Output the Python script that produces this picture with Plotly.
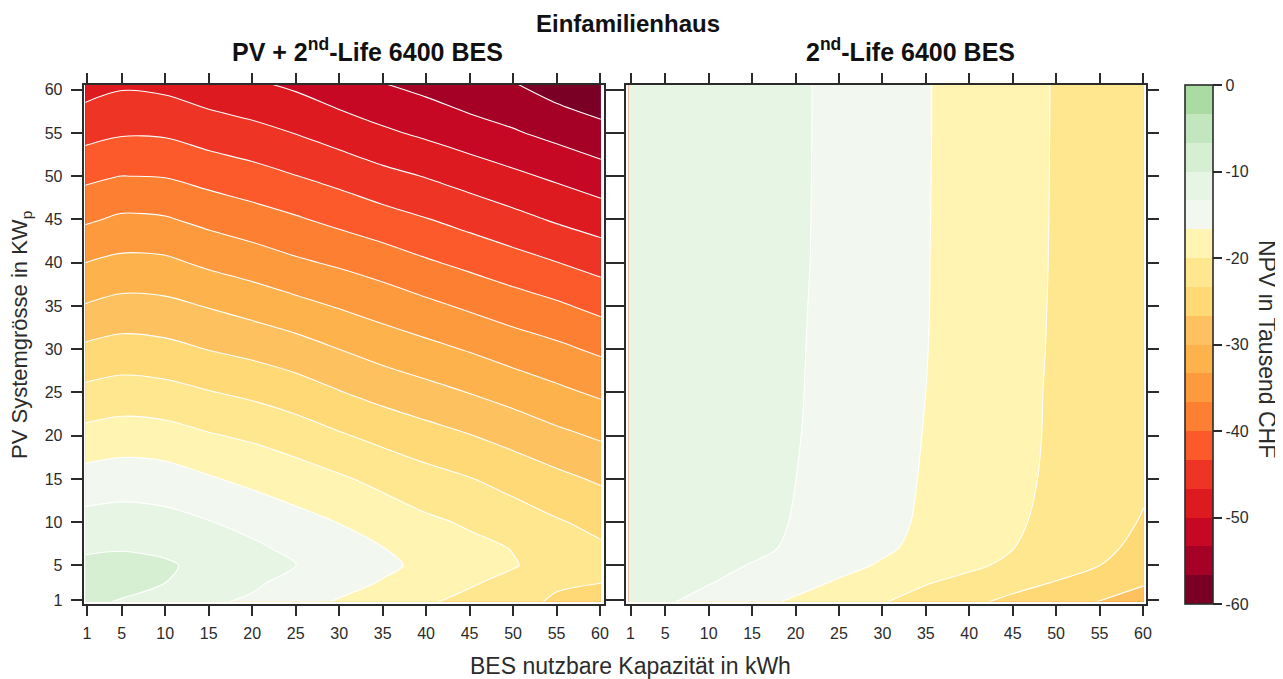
import plotly.graph_objects as go

W, H = 1283, 679
PAGE_OFFSET = 8

bes_grid = [0.8, 5, 10, 15, 20, 25, 30, 35, 40, 45, 50, 55, 60.1]
pv_grid = [0.8, 3, 5, 7, 10, 15, 20, 25, 30, 35, 40, 45, 50, 55, 60.6]
tick_values = [1, 5, 10, 15, 20, 25, 30, 35, 40, 45, 50, 55, 60]
tick_labels = ["1", "5", "10", "15", "20", "25", "30", "35", "40", "45", "50", "55", "60"]
scale_values = [0, -10, -20, -30, -40, -50, -60]
scale_labels = ["0", "-10", "-20", "-30", "-40", "-50", "-60"]

# Left panel: NPV per BES capacity column, from the lowest PV size upward
combo_x01 = [-9.6, -9.1, -9.1, -10.55, -12.2, -15.39, -18.95, -22.52, -26.06, -29.82, -33.33, -37.13, -40.76, -44.39, -48.0]
combo_x05 = [-10.15, -9.3, -9.1, -10.2, -11.89, -14.96, -18.41, -21.95, -25.39, -28.98, -32.54, -36.12, -39.97, -43.63, -47.1]
combo_x10 = [-11.6, -10.0, -9.6, -10.6, -12.26, -15.25, -18.7, -22.27, -25.77, -29.21, -32.7, -36.36, -40.14, -43.73, -47.48]
combo_x15 = [-12.8, -11.8, -10.9, -11.25, -13.2, -16.36, -19.72, -23.17, -26.75, -30.18, -33.94, -37.54, -41.17, -44.82, -48.6]
combo_x20 = [-13.9, -12.7, -12.1, -12.7, -14.39, -17.43, -20.51, -24.0, -27.59, -31.23, -34.97, -38.56, -42.14, -45.66, -49.5]
combo_x25 = [-15.6, -14.6, -13.25, -14.2, -15.64, -18.4, -21.62, -25.08, -28.62, -32.4, -36.15, -39.64, -43.25, -46.76, -50.56]
combo_x30 = [-16.9, -15.7, -14.5, -15.35, -16.75, -19.57, -22.97, -26.5, -30.0, -33.57, -37.13, -40.85, -44.41, -48.11, -52.0]
combo_x35 = [-18.2, -16.85, -16.1, -16.6, -18.13, -20.85, -24.26, -27.81, -31.33, -34.74, -38.23, -42.06, -45.74, -49.45, -53.2]
combo_x40 = [-19.7, -18.6, -17.3, -18.13, -19.41, -22.15, -25.42, -28.94, -32.44, -35.93, -39.6, -43.2, -46.81, -50.59, -54.3]
combo_x45 = [-20.7, -19.7, -18.5, -19.2, -20.39, -23.2, -26.54, -30.08, -33.58, -37.17, -40.79, -44.45, -48.09, -51.8, -55.65]
combo_x50 = [-22.0, -20.8, -19.8, -20.1, -21.7, -24.51, -27.81, -31.33, -34.87, -38.38, -42.04, -45.7, -49.33, -52.99, -56.45]
combo_x55 = [-23.9, -22.8, -21.2, -21.94, -23.03, -25.83, -29.22, -32.63, -35.96, -39.5, -43.27, -47.03, -50.56, -54.25, -58.2]
combo_x60 = [-24.5, -23.3, -22.6, -22.9, -24.2, -27.12, -30.43, -33.87, -37.27, -40.92, -44.55, -48.21, -51.88, -55.59, -59.4]

# Right panel: NPV per PV size row, from the smallest BES capacity to the largest
life_y01 = [-11.9, -13.0, -14.35, -15.7, -17.1, -18.4, -19.8, -21.3, -22.7, -24.1, -25.4, -26.75, -28.0]
life_y03 = [-11.4, -12.0, -13.2, -14.4, -15.7, -17.0, -18.3, -19.8, -21.0, -22.3, -23.5, -25.0, -26.4]
life_y05 = [-11.0, -11.6, -12.5, -13.5, -14.7, -15.8, -16.97, -18.2, -19.4, -20.7, -22.0, -23.32, -24.6]
life_y07 = [-10.9, -11.3, -11.9, -12.6, -13.85, -15.0, -16.2, -17.45, -18.68, -19.94, -21.31, -22.7, -24.1]
life_y10 = [-10.7, -11.05, -11.6, -12.4, -13.51, -14.7, -15.9, -17.07, -18.3, -19.55, -20.86, -22.2, -23.55]
life_y15 = [-10.6, -10.95, -11.4, -12.1, -13.32, -14.5, -15.7, -16.9, -18.1, -19.33, -20.5, -21.7, -22.9]
life_y20 = [-10.6, -10.95, -11.4, -11.9, -13.18, -14.37, -15.56, -16.78, -18.0, -19.2, -20.4, -21.65, -22.85]
life_y25 = [-10.6, -10.95, -11.4, -11.9, -13.1, -14.28, -15.46, -16.67, -17.91, -19.15, -20.37, -21.6, -22.8]
life_y30 = [-10.6, -10.95, -11.4, -11.9, -13.05, -14.24, -15.43, -16.6, -17.83, -19.08, -20.3, -21.55, -22.75]
life_y35 = [-10.6, -10.95, -11.4, -11.9, -13.0, -14.18, -15.36, -16.56, -17.79, -19.03, -20.26, -21.5, -22.7]
life_y40 = [-10.6, -10.95, -11.4, -11.9, -12.93, -14.13, -15.33, -16.55, -17.78, -19.01, -20.22, -21.45, -22.65]
life_y45 = [-10.6, -10.95, -11.4, -11.9, -12.91, -14.11, -15.31, -16.53, -17.76, -19.0, -20.2, -21.43, -22.63]
life_y50 = [-10.6, -10.95, -11.4, -11.9, -12.89, -14.1, -15.3, -16.52, -17.75, -18.98, -20.19, -21.42, -22.62]
life_y55 = [-10.6, -10.95, -11.4, -11.9, -12.88, -14.09, -15.29, -16.5, -17.74, -18.97, -20.18, -21.41, -22.61]
life_y60 = [-10.6, -10.95, -11.4, -11.9, -12.87, -14.08, -15.28, -16.5, -17.73, -18.96, -20.17, -21.4, -22.6]

band_colors = [
    "#7a0026", "#a50026", "#c60824", "#dd1a1f", "#ee3424", "#fc5a2a",
    "#fd7f32", "#fd9a3e", "#feb24c", "#fec15f", "#fed976", "#fee78f",
    "#fff4b2", "#f2f7f0", "#e7f5e4", "#d6efd2", "#c2e6bd", "#a9dba3",
]

combo_columns = [combo_x01, combo_x05, combo_x10, combo_x15, combo_x20, combo_x25, combo_x30,
                 combo_x35, combo_x40, combo_x45, combo_x50, combo_x55, combo_x60]
combo_z = [list(row) for row in zip(*combo_columns)]
life_z = [life_y01, life_y03, life_y05, life_y07, life_y10, life_y15, life_y20, life_y25,
          life_y30, life_y35, life_y40, life_y45, life_y50, life_y55, life_y60]

n = len(band_colors)
colorscale = []
for i, c in enumerate(band_colors):
    colorscale.append([i / n, c])
    colorscale.append([(i + 1) / n, c])

levels = dict(start=-60, end=0, size=10 / 3)

FONT = "Liberation Sans, Arial, sans-serif"
INK = "#2b2b2b"


def fx(p):
    return (p - PAGE_OFFSET) / W


def fy(p):
    return 1 - (p - PAGE_OFFSET) / H


fig = go.Figure()

fig.add_trace(go.Contour(
    x=bes_grid, y=pv_grid, z=combo_z, xaxis="x", yaxis="y",
    autocontour=False, contours=dict(levels, coloring="fill", showlines=False),
    colorscale=colorscale, zmin=-60, zmax=0, line_smoothing=0.85,
    hoverinfo="skip",
    colorbar=dict(
        x=fx(1185), xanchor="left", xpad=0, ypad=0,
        y=fy(604.3), yanchor="bottom", lenmode="pixels", len=519.3,
        thicknessmode="pixels", thickness=27.5,
        outlinecolor=INK, outlinewidth=1.6,
        tickmode="array", tickvals=scale_values, ticktext=scale_labels,
        ticks="outside", ticklen=9, tickwidth=1.6, tickcolor=INK,
        tickfont=dict(family=FONT, size=16, color=INK),
    ),
))
fig.add_trace(go.Contour(
    x=bes_grid, y=pv_grid, z=life_z, xaxis="x2", yaxis="y2",
    autocontour=False, contours=dict(levels, coloring="fill", showlines=False),
    colorscale=colorscale, zmin=-60, zmax=0, line_smoothing=0.85,
    hoverinfo="skip", showscale=False,
))
for z, xa, ya in ((combo_z, "x", "y"), (life_z, "x2", "y2")):
    fig.add_trace(go.Contour(
        x=bes_grid, y=pv_grid, z=z, xaxis=xa, yaxis=ya,
        autocontour=False, contours=dict(levels, coloring="none", showlines=True),
        line=dict(color="#ffffff", width=1.1, smoothing=0.85),
        hoverinfo="skip", showscale=False,
    ))

x_common = dict(
    tickmode="array", tickvals=tick_values, ticktext=tick_labels,
    ticks="outside", ticklen=10, tickwidth=1.6, tickcolor=INK,
    showline=True, linecolor=INK, linewidth=1.6, mirror="ticks",
    showgrid=False, zeroline=False, automargin=False,
    tickfont=dict(family=FONT, size=16, color=INK),
    ticklabelstandoff=4,
)
y_common = dict(x_common, ticklen=11, ticklabelstandoff=5)

HEAD_FONT = dict(family=FONT, size=24, color="#111111", weight="bold")
PANEL_FONT = dict(family=FONT, size=25, color="#111111", weight="bold")
LABEL_FONT = dict(family=FONT, size=23, color=INK)
YLABEL_FONT = dict(family=FONT, size=22, color=INK)

fig.update_layout(
    template="none",
    width=W, height=H,
    margin=dict(l=0, r=0, t=0, b=0, pad=0, autoexpand=False),
    paper_bgcolor="white", plot_bgcolor="white",
    showlegend=False,
    xaxis=dict(x_common, domain=[fx(83.5), fx(604)], range=[0.6, 60.46], anchor="y"),
    yaxis=dict(y_common, domain=[fy(604), fy(84.5)], range=[0.54, 60.6], anchor="x"),
    xaxis2=dict(x_common, domain=[fx(626), fx(1146)], range=[0.48, 60.35], anchor="y2"),
    yaxis2=dict(y_common, domain=[fy(604), fy(84.5)], range=[0.54, 60.6], anchor="x2",
                showticklabels=False),
    annotations=[
        dict(text="Einfamilienhaus", x=fx(628), y=fy(23), xref="paper", yref="paper",
             showarrow=False, xanchor="center", yanchor="middle", font=HEAD_FONT),
        dict(text="PV + 2<sup>nd</sup>-Life 6400 BES", x=fx(367), y=fy(50), xref="paper", yref="paper",
             showarrow=False, xanchor="center", yanchor="middle", font=PANEL_FONT),
        dict(text="2<sup>nd</sup>-Life 6400 BES", x=fx(910), y=fy(50), xref="paper", yref="paper",
             showarrow=False, xanchor="center", yanchor="middle", font=PANEL_FONT),
        dict(text="BES nutzbare Kapazität in kWh", x=fx(630), y=fy(666), xref="paper", yref="paper",
             showarrow=False, xanchor="center", yanchor="middle", font=LABEL_FONT),
        dict(text="PV Systemgrösse in KW<sub>p</sub>", x=fx(21), y=fy(335), xref="paper", yref="paper",
             showarrow=False, xanchor="center", yanchor="middle", textangle=-90, font=YLABEL_FONT),
        dict(text="NPV in Tausend CHF", x=fx(1267), y=fy(349), xref="paper", yref="paper",
             showarrow=False, xanchor="center", yanchor="middle", textangle=90, font=LABEL_FONT),
    ],
)

fig.write_html("out.html")
